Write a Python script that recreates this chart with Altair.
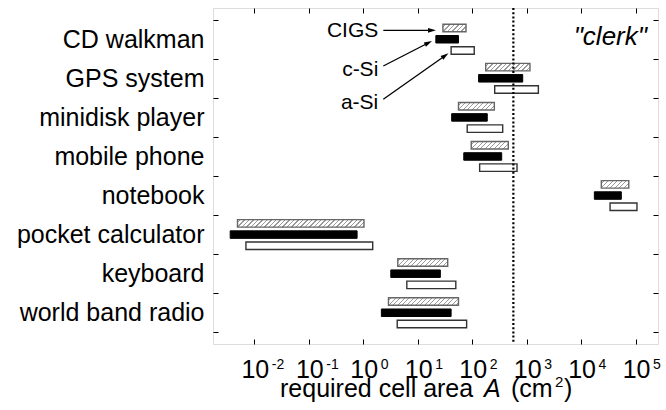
import math
import pandas as pd
import altair as alt

# ---------------- data ----------------
cats = ["CD walkman", "GPS system", "minidisk player", "mobile phone",
        "notebook", "pocket calculator", "keyboard", "world band radio"]
techs = ["CIGS", "c-Si", "a-Si"]

cigs_lo = [29, 177, 56, 96, 23500, 0.0049, 4.3, 2.9]
cigs_hi = [77, 1150, 255, 460, 75000, 1.03, 35.5, 56]
csi_lo = [21.5, 131, 42, 70, 17500, 0.0036, 3.2, 2.15]
csi_hi = [56, 846, 189, 348, 54700, 0.77, 26, 41]
asi_lo = [41, 259, 81, 137, 34000, 0.0070, 6.3, 4.2]
asi_hi = [109, 1640, 363, 665, 106000, 1.49, 50, 79]

tick_values = [0.01, 0.1, 1, 10, 100, 1000, 10000, 100000]
tick_exps = ["-2", "-1", "0", "1", "2", "3", "4", "5"]
clerk_limit = [570]

rows = []
for tech, lo, hi in [("CIGS", cigs_lo, cigs_hi), ("c-Si", csi_lo, csi_hi), ("a-Si", asi_lo, asi_hi)]:
    for c, l, h in zip(cats, lo, hi):
        rows.append({"cat": c, "tech": tech, "lo": l, "hi": h})
df = pd.DataFrame(rows)
ticks_df = pd.DataFrame({"v": tick_values, "e": tick_exps})
limit_df = pd.DataFrame({"v": clerk_limit})

# ---------------- layout ----------------
FONT = "Liberation Sans"
W_PLOT, H_PLOT = 445, 336
X_DOM = [0.00174, 258000]
PPD = W_PLOT / (math.log10(X_DOM[1]) - math.log10(X_DOM[0]))
Y_PAD_OUT = 0.3
O_PAD_IN, O_PAD_OUT = 0.33, 0.41
y_step = H_PLOT / (len(cats) + 2 * Y_PAD_OUT)
o_step = y_step / (len(techs) - O_PAD_IN + 2 * O_PAD_OUT)
BAR_H = o_step * (1 - O_PAD_IN)

xscale = alt.Scale(type="log", domain=X_DOM, nice=False)
yscale = alt.Scale(domain=cats, paddingInner=0, paddingOuter=Y_PAD_OUT)
oscale = alt.Scale(domain=techs, paddingInner=O_PAD_IN, paddingOuter=O_PAD_OUT)

ax_common = dict(domain=False, grid=False, ticks=True, tickSize=5, tickWidth=1,
                 tickColor="black", offset=-5, title=None)
x_bottom = alt.Axis(orient="bottom", values=tick_values, labels=False, **ax_common)
x_top = alt.Axis(orient="top", values=tick_values, labels=False, **ax_common)
y_left = alt.Axis(orient="left", tickBand="extent", labels=True, labelFont=FONT,
                  labelFontSize=25, labelColor="black", labelPadding=9,
                  labelLimit=400, **ax_common)
y_right = alt.Axis(orient="right", tickBand="extent", labels=False, **ax_common)


def enc(xaxis=None, yaxis=None):
    return dict(
        x=alt.X("lo:Q", scale=xscale, axis=xaxis),
        x2="hi:Q",
        y=alt.Y("cat:N", scale=yscale, axis=yaxis),
        yOffset=alt.YOffset("tech:N", scale=oscale),
    )


HATCH = "#9a9a9a"
P, L = 4.5, 1.2


def hatch(lo, hi):
    W = (math.log10(hi) - math.log10(lo)) * PPD
    H = BAR_H
    r = H / W
    a = (1 + r) / (1 + r * r)
    D = W + H
    stops = [{"offset": 0, "color": "white"}]
    x = P * 0.5
    while x < D:
        s = x / D
        e = min((x + L) / D, 1)
        stops += [{"offset": s, "color": "white"}, {"offset": s, "color": HATCH},
                  {"offset": e, "color": HATCH}, {"offset": e, "color": "white"}]
        x += P
    stops.append({"offset": 1, "color": "white"})
    return {"gradient": "linear", "x1": 0, "y1": 0, "x2": a, "y2": a * r, "stops": stops}


base = alt.Chart(df)

csi = base.transform_filter(alt.datum.tech == "c-Si").mark_bar(
    color="black", stroke="black", strokeWidth=1
).encode(**enc(x_bottom, y_left))

frame_axes = base.mark_bar(opacity=0).encode(**enc(x_top, y_right))

asi = base.transform_filter(alt.datum.tech == "a-Si").mark_bar(
    fill="white", stroke="#333333", strokeWidth=1.4
).encode(**enc())

cigs_layers = []
for c, l, h in zip(cats, cigs_lo, cigs_hi):
    cigs_layers.append(
        base.transform_filter((alt.datum.tech == "CIGS") & (alt.datum.cat == c)).mark_bar(
            fill=hatch(l, h), stroke="#666666", strokeWidth=1.4
        ).encode(**enc())
    )

limit = alt.Chart(limit_df).mark_rule(color="black", strokeWidth=2.2, strokeDash=[2, 2.2]).encode(
    x=alt.X("v:Q", scale=xscale, axis=None)
)

tick_base = alt.Chart(ticks_df).mark_text(
    text="10", font=FONT, fontSize=25, align="center", baseline="alphabetic", dx=1, color="black"
).encode(x=alt.X("v:Q", scale=xscale, axis=None), y=alt.value(370))
tick_exp = alt.Chart(ticks_df).mark_text(
    font=FONT, fontSize=14, align="left", baseline="alphabetic", dx=17.5, color="black"
).encode(x=alt.X("v:Q", scale=xscale, axis=None), y=alt.value(361), text="e:N")


def txt(s, x, y, size=25, align="left", style="normal"):
    return alt.Chart(limit_df).mark_text(
        text=s, font=FONT, fontSize=size, align=align, baseline="alphabetic",
        fontStyle=style, color="black"
    ).encode(x=alt.value(x), y=alt.value(y))


title_layers = [
    txt("required cell area", 67, 389),
    txt("A", 271, 389, style="italic"),
    txt("(cm", 298, 389),
    txt("2", 342, 379, size=15),
    txt(")", 351, 389),
]

ann_layers = [
    txt("CIGS", 165.3, 29, size=21, align="right"),
    txt("c-Si", 165.3, 67.5, size=21, align="right"),
    txt("a-Si", 165.3, 100.5, size=21, align="right"),
    txt('"clerk"', 434, 37, size=26, align="right", style="italic"),
]

arrows = [((170.3, 22.3), (223.0, 22.3)),
          ((170.3, 58.0), (219.0, 33.0)),
          ((170.3, 91.3), (235.5, 45.3))]
arrow_layers = []
for (x0, y0), (x1, y1) in arrows:
    dx, dy = x1 - x0, y1 - y0
    n = math.hypot(dx, dy)
    ux, uy = dx / n, dy / n
    ang = math.degrees(math.atan2(dx, -dy)) % 360
    arrow_layers.append(
        alt.Chart(limit_df).mark_rule(color="black", strokeWidth=1.3).encode(
            x=alt.value(x0), y=alt.value(y0), x2=alt.value(x1 - 6 * ux), y2=alt.value(y1 - 6 * uy)
        )
    )
    arrow_layers.append(
        alt.Chart(limit_df).mark_point(
            shape="M0,-1L0.6,1L-0.6,1Z", filled=True, color="black", opacity=1,
            size=64, angle=ang
        ).encode(x=alt.value(x1 - 4 * ux), y=alt.value(y1 - 4 * uy))
    )

chart = alt.layer(
    csi, frame_axes, asi, *cigs_layers, limit, tick_base, tick_exp,
    *title_layers, *ann_layers, *arrow_layers
).resolve_axis(x="independent", y="independent").properties(
    width=W_PLOT, height=H_PLOT,
    padding={"left": 213, "top": 8, "right": 8, "bottom": 66},
    autosize=alt.AutoSizeParams(type="none"),
    background="white",
).configure_view(stroke="#111111", strokeWidth=1.3).configure(font=FONT)

chart.save("out.html", embed_options={"renderer": "svg", "actions": False})
